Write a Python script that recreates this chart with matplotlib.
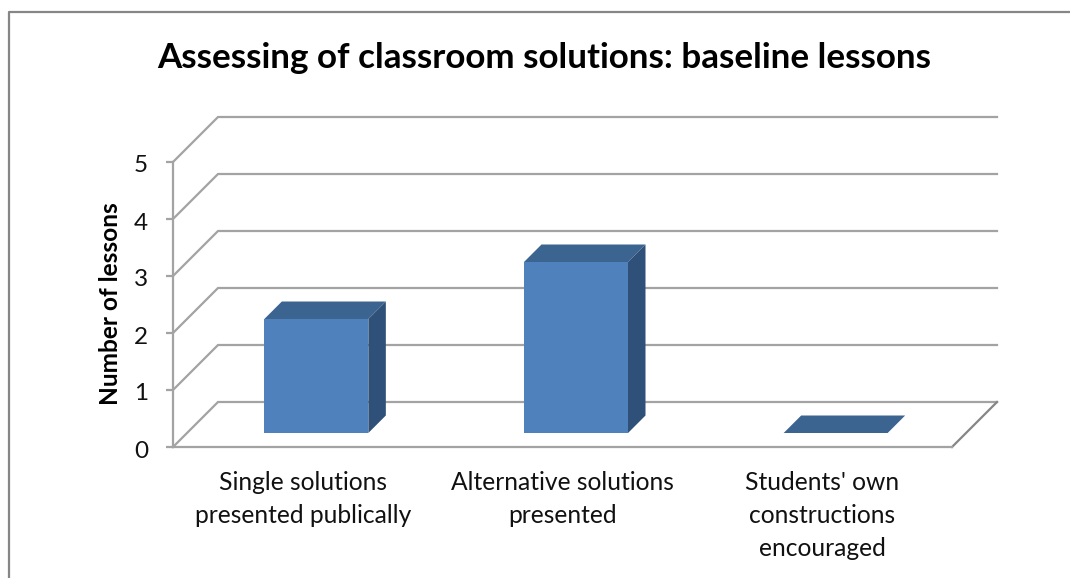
import matplotlib
matplotlib.use("Agg")
import matplotlib.pyplot as plt
from matplotlib.lines import Line2D
from matplotlib.transforms import ScaledTranslation

plt.rcParams['font.family'] = ['Lato', 'DejaVu Sans']

title = "Assessing of classroom solutions: baseline lessons"
ylabel = "Number of lessons"
categories = ["Single solutions\npresented publically",
              "Alternative solutions\npresented",
              "Students' own\nconstructions\nencouraged"]
values = [2, 3, 0]
yticks = [0, 1, 2, 3, 4, 5]

W, H = 1070, 578
GRID = '#a3a3a3'
FRAME = '#868686'
FRONT = '#4f81bd'
TOP = '#3c6491'
SIDE = '#2f5078'
LW = 1.6

fig = plt.figure(figsize=(W / 100, H / 100), dpi=100)

# plot box = front plane of the 3d chart
left, right, y0, y5 = 173, 952, 447, 162
ax = fig.add_axes([left / W, 1 - y0 / H, (right - left) / W, (y0 - y5) / H])
ax.set_xlim(0, 3)
ax.set_ylim(0, 5)
ax.patch.set_visible(False)

px_x = 3 / (right - left)
px_y = 5 / (y0 - y5)
depth_x = 45 * px_x
depth_y = 45 * px_y

# back wall and side wall grid lines
for v in yticks:
    ax.plot([0, depth_x, 3 + depth_x], [v, v + depth_y, v + depth_y], color=GRID, lw=LW,
            clip_on=False, zorder=1, solid_joinstyle='miter')
ax.plot([3, 3 + depth_x], [0, depth_y], color=FRAME, lw=LW, clip_on=False, zorder=1)

# bars: front face plus fake 3d faces
lift_x, lift_y = 13.5 * px_x, 14 * px_y
bar_w = 104 * px_x
bar_dx, bar_dy = 17.5 * px_x, 17.5 * px_y
for i, val in enumerate(values):
    x0 = i + 0.5 + lift_x - bar_w / 2
    x1 = x0 + bar_w
    b = lift_y
    t = lift_y + val
    ax.fill([x0, x1, x1 + bar_dx, x0 + bar_dx], [t, t, t + bar_dy, t + bar_dy],
            color=TOP, lw=0, clip_on=False, zorder=3)
    if val > 0:
        ax.fill([x1, x1 + bar_dx, x1 + bar_dx, x1], [b, b + bar_dy, t + bar_dy, t],
                color=SIDE, lw=0, clip_on=False, zorder=3)
        ax.bar(i + 0.5 + lift_x, val, width=bar_w, bottom=b, color=FRONT, zorder=4, clip_on=False)

for s in ['top', 'right']:
    ax.spines[s].set_visible(False)
for s in ['left', 'bottom']:
    ax.spines[s].set_color(GRID)
    ax.spines[s].set_linewidth(LW)

ax.set_yticks(yticks)
ax.set_yticklabels([str(v) for v in yticks], fontsize=17.5, color='#111111')
ax.tick_params(axis='y', length=5, width=LW, color=GRID, pad=13)
# digits sit a little under their ticks in the original
shift = ScaledTranslation(0, -2 / 100, fig.dpi_scale_trans)
for lab in ax.get_yticklabels():
    lab.set_transform(lab.get_transform() + shift)
ax.set_xticks([i + 0.5 for i in range(len(categories))])
ax.set_xticklabels(categories, fontsize=17.7, color='#111111', linespacing=1.53)
ax.tick_params(axis='x', length=0, pad=17.5)

fig.text(544 / W, 1 - 58 / H, title, fontsize=25.2, fontweight='bold', color='black',
         ha='center', va='center')
fig.text(111 / W, 1 - 304 / H, ylabel, fontsize=17.6, fontweight='bold', color='black',
         rotation=90, ha='center', va='center')

# chart frame, cropped at right and bottom
fig.add_artist(Line2D([8.5 / W, 8.5 / W, 1], [0, 1 - 12 / H, 1 - 12 / H], color=FRAME, lw=LW))

fig.savefig("out.png", dpi=100)
